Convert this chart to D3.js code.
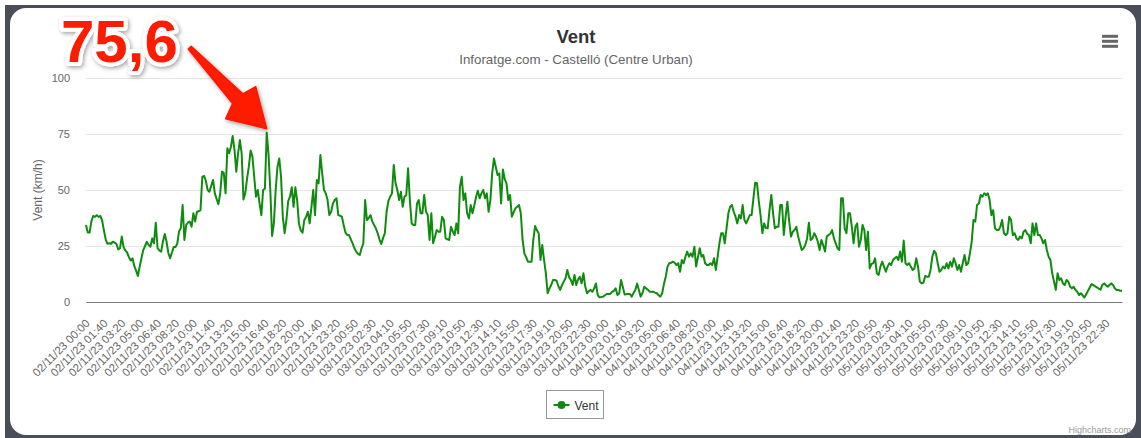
<!DOCTYPE html>
<html>
<head>
<meta charset="utf-8">
<script src="https://cdn.jsdelivr.net/npm/d3@7"></script>
<style>
  body { margin: 0; background: #fff; }
  text { font-family: "Liberation Sans", Arial, Helvetica, sans-serif; }
</style>
</head>
<body>
<div id="chart"></div>
<script>
// chart texts
const chartTitle = "Vent";
const chartSubtitle = "Inforatge.com - Castelló (Centre Urban)";
const seriesName = "Vent";
const yAxisTitle = "Vent (km/h)";
const creditText = "Highcharts.com";

// y axis ticks
const yTicks = [0, 25, 50, 75, 100];

// one label every 10 readings (10 minute data)
const labelStep = 10;
const tickLabels = [
  "02/11/23 00:00", "02/11/23 01:40", "02/11/23 03:20", "02/11/23 05:00", "02/11/23 06:40",
  "02/11/23 08:20", "02/11/23 10:00", "02/11/23 11:40", "02/11/23 13:20", "02/11/23 15:00",
  "02/11/23 16:40", "02/11/23 18:20", "02/11/23 20:00", "02/11/23 21:40", "02/11/23 23:20",
  "03/11/23 00:50", "03/11/23 02:30", "03/11/23 04:10", "03/11/23 05:50", "03/11/23 07:30",
  "03/11/23 09:10", "03/11/23 10:50", "03/11/23 12:30", "03/11/23 14:10", "03/11/23 15:50",
  "03/11/23 17:30", "03/11/23 19:10", "03/11/23 20:50", "03/11/23 22:30",
  "04/11/23 00:00", "04/11/23 01:40", "04/11/23 03:20", "04/11/23 05:00", "04/11/23 06:40",
  "04/11/23 08:20", "04/11/23 10:00", "04/11/23 11:40", "04/11/23 13:20", "04/11/23 15:00",
  "04/11/23 16:40", "04/11/23 18:20", "04/11/23 20:00", "04/11/23 21:40", "04/11/23 23:20",
  "05/11/23 00:50", "05/11/23 02:30", "05/11/23 04:10", "05/11/23 05:50", "05/11/23 07:30",
  "05/11/23 09:10", "05/11/23 10:50", "05/11/23 12:30", "05/11/23 14:10", "05/11/23 15:50",
  "05/11/23 17:30", "05/11/23 19:10", "05/11/23 20:50", "05/11/23 22:30"
];

// wind speed, km/h
const vent = [
  34.4, 31, 31, 36, 38.4, 38, 38.8, 38, 38.4, 36.5,
  32, 28, 26, 26.2, 26, 26.9, 26.5, 26, 23.5, 24,
  29.2, 24.5, 23, 22, 20, 18.5, 19.5, 16, 14, 11.6,
  15.8, 19.5, 23.2, 25, 26.9, 25.5, 24.7, 28.4, 26.2, 35.4,
  24, 23, 22.5, 27, 30.4, 27, 22, 19.5, 22, 24.5,
  24.5, 26, 31.5, 33, 43.3, 27.7, 34.4, 35.5, 35.9, 33.6,
  39.6, 35.9, 40.3, 40.5, 41, 55.9, 56.3, 54, 50, 49.2,
  52, 54.5, 48.5, 46, 43.7, 48.5, 58.2, 57.7, 48.5, 68.6,
  66.4, 69.3, 74.1, 67.9, 58.2, 66.4, 72.3, 66.4, 45.8, 48.5,
  55, 60.4, 67.6, 65, 56, 47, 50, 44, 38.8, 50,
  50.7, 75.6, 66, 50, 29.5, 35, 50, 60.4, 64.1, 56,
  38, 30.7, 36.6, 45, 47, 51.2, 42.5, 51.2, 45.5, 35.1,
  32, 30.9, 36.6, 38, 40.3, 35.1, 42.5, 50, 38.8, 54.5,
  53, 65.6, 57.4, 50, 48.5, 45.5, 38.8, 40.3, 44, 45.5,
  46.3, 38.8, 38.5, 38.1, 34.4, 31, 29.9, 29.9, 28, 26.2,
  24, 22.5, 21.5, 21, 24, 26.2, 45.5, 36.6, 37.5, 38.8,
  36, 34.4, 32.9, 30.7, 28, 25.9, 28.5, 30.7, 40.3, 45,
  47, 48.5, 61.2, 53, 50, 45.5, 49.2, 42.5, 47, 47.8,
  59.7, 45.5, 35.1, 34.4, 34.4, 44, 45.5, 39.6, 39.6, 47.8,
  40.3, 38.8, 27.7, 39.6, 26.2, 29, 32.1, 31.4, 31.4, 38.1,
  36.6, 28.4, 28, 27.7, 33.6, 31.5, 29.9, 35.1, 30.7, 51.5,
  55.9, 45.5, 48.5, 39.6, 37.3, 43.3, 39.6, 43, 47, 49.7,
  46.3, 48.5, 50, 46.3, 48.5, 40.3, 45.5, 57.4, 64.1, 60.4,
  56.7, 57.4, 44, 59.2, 55, 53, 45.5, 47.8, 38.1, 40,
  41.8, 42.5, 43.3, 39.6, 27.7, 21.7, 20, 18, 18, 18,
  27.7, 33.9, 32, 30.7, 18.75, 25.4, 18.75, 12.8, 3.9, 6,
  7.6, 9.8, 9.8, 9.5, 7, 5.4, 7.5, 9.1, 10.6, 14.3,
  11, 9.8, 7.6, 12.1, 7.6, 10, 11.3, 8.3, 12.8, 7,
  3.9, 4.8, 5.4, 4.6, 6, 8.3, 3.1, 2.1, 2.2, 2.4,
  3, 3.6, 3.6, 3.6, 4.5, 5, 6.1, 3.1, 3.9, 9.8,
  6.8, 3.4, 3.5, 3.6, 3.6, 2.4, 4, 5.4, 8.3, 5.4,
  2.4, 4, 6.8, 6.1, 5.5, 4.6, 4.6, 4.6, 4.2, 3.9,
  3, 2.4, 3.9, 8, 11.3, 15.8, 17.3, 17.5, 18, 17.5,
  16.5, 17.3, 13.5, 18.75, 17.3, 20.2, 22.5, 20.2, 21.7, 20.2,
  24.7, 15.8, 20, 24, 20.2, 21, 17.3, 16.5, 16.5, 17.3,
  16.5, 19.5, 14.3, 20.2, 26.2, 30.7, 30.7, 26.2, 33, 39.6,
  42.5, 43.3, 40.3, 38.1, 35.1, 38.8, 37.3, 43.3, 36.6, 35.1,
  37, 38.8, 38.8, 46.3, 53.3, 53, 45, 38.8, 30.7, 35.1,
  33, 32.9, 41, 47.8, 39.6, 32.9, 33.6, 33.6, 43.3, 43.3,
  29.9, 38, 44.8, 36, 29.2, 31.4, 32.1, 33.6, 29.2, 26.2,
  23.2, 24, 25.4, 28.4, 35.4, 27.7, 28.4, 30.7, 29.2, 26.9,
  23.2, 27.7, 25.4, 22.5, 29.2, 29.9, 30.5, 32.1, 28.4, 26.2,
  24, 23.2, 46.3, 46.3, 32.9, 30.7, 39.6, 39.6, 33.6, 26.2,
  33.6, 35.1, 24.7, 27.7, 34.4, 32.1, 23.2, 31.4, 15, 17,
  17.3, 19.5, 12.8, 12.1, 15.8, 18, 15.8, 13.5, 15.8, 17.3,
  16.5, 18.75, 19.5, 20.2, 18.75, 22.5, 18, 27.4, 17.3, 16.5,
  17.3, 15.8, 14.3, 15, 19.5, 15.8, 9.1, 8.3, 8.6, 11.6,
  11.3, 11.3, 14.3, 20.2, 22.9, 21.7, 17.3, 13.5, 14.3, 15.8,
  15, 17.3, 15, 18, 15.8, 19.5, 17.3, 14.3, 16.5, 13.5,
  17.3, 21, 16.5, 17.3, 21.7, 26.9, 36.6, 35.9, 43.3, 44,
  47.8, 47, 48.5, 47.8, 48.5, 45.5, 38.8, 41, 32.9, 32.1,
  32.1, 33.6, 36.6, 30.7, 29.9, 30.7, 38.1, 36.6, 29.9, 30.7,
  28.4, 27.7, 29.2, 28.4, 31.4, 32.1, 30.5, 29.9, 26.2, 35.1,
  29.9, 35.1, 29.9, 29.9, 28.4, 26.2, 27.7, 23.2, 20.2, 18.75,
  12.8, 9.1, 5.4, 12.8, 9.8, 10.6, 8.3, 7.6, 9.8, 9.1,
  6.8, 6.1, 6.8, 5.4, 4.6, 3.1, 3.9, 3, 2, 3.5,
  5, 6.5, 8, 7.5, 7, 6.5, 6, 5.5, 7.6, 8.3,
  7.5, 6.8, 7.6, 8.3, 7.6, 6, 5.4, 5.4, 5, 5
];

const width = 1141,
  height = 438;
const plot = { left: 86, right: 1122, top: 78, bottom: 302 };

const svg = d3
  .select("#chart")
  .append("svg")
  .attr("width", width)
  .attr("height", height)
  .attr("viewBox", `0 0 ${width} ${height}`);

const defs = svg.append("defs");
defs
  .append("filter")
  .attr("id", "shadow")
  .attr("x", "-20%")
  .attr("y", "-20%")
  .attr("width", "140%")
  .attr("height", "140%")
  .append("feDropShadow")
  .attr("dx", 1.5)
  .attr("dy", 2)
  .attr("stdDeviation", 2)
  .attr("flood-color", "#000")
  .attr("flood-opacity", 0.35);

// the dark frame of the screenshot + white card
svg
  .append("rect")
  .attr("x", 5)
  .attr("y", 5)
  .attr("width", width - 5)
  .attr("height", height - 5)
  .attr("fill", "#4a4e58");
svg
  .append("rect")
  .attr("x", 10)
  .attr("y", 8)
  .attr("width", 1126)
  .attr("height", 427)
  .attr("rx", 16)
  .attr("fill", "#fff");

const x = d3
  .scaleLinear()
  .domain([0, vent.length - 1])
  .range([plot.left, plot.right]);
const y = d3
  .scaleLinear()
  .domain([0, 100])
  .range([plot.bottom, plot.top]);

// grid lines
svg
  .append("g")
  .selectAll("line")
  .data(yTicks.filter(d => d > 0))
  .enter()
  .append("line")
  .attr("x1", plot.left)
  .attr("x2", plot.right)
  .attr("y1", d => y(d) + 0.5)
  .attr("y2", d => y(d) + 0.5)
  .attr("stroke", "#e6e6e6");

// y axis labels
const yAxis = svg
  .append("g")
  .attr("transform", `translate(${plot.left},0)`)
  .call(
    d3
      .axisLeft(y)
      .tickValues(yTicks)
      .tickSize(0)
      .tickPadding(16)
  );
yAxis.select(".domain").remove();
yAxis
  .selectAll("text")
  .attr("fill", "#666")
  .style("font-size", "11px");

svg
  .append("text")
  .attr("transform", `translate(42,${(plot.top + plot.bottom) / 2}) rotate(-90)`)
  .attr("text-anchor", "middle")
  .attr("fill", "#666")
  .style("font-size", "12px")
  .text(yAxisTitle);

// x axis, rotated labels
const xAxis = svg
  .append("g")
  .attr("transform", `translate(0,${plot.bottom})`)
  .call(
    d3
      .axisBottom(x)
      .tickValues(d3.range(0, vent.length, labelStep))
      .tickFormat(i => tickLabels[i / labelStep])
      .tickSize(0)
      .tickSizeOuter(0)
  );
xAxis
  .select(".domain")
  .attr("stroke", "#7a7a7a")
  .attr("stroke-width", 1.2);
xAxis
  .selectAll("text")
  .attr("x", 0)
  .attr("y", 0)
  .attr("dy", 0)
  .attr("text-anchor", "end")
  .attr("transform", "translate(4,22) rotate(-45)")
  .attr("fill", "#666")
  .style("font-size", "11.4px");

// the series
svg
  .append("path")
  .datum(vent)
  .attr(
    "d",
    d3
      .line()
      .x((d, i) => x(i))
      .y(d => y(d))
  )
  .attr("fill", "none")
  .attr("stroke", "#0f8c0f")
  .attr("stroke-width", 2)
  .attr("stroke-linejoin", "round");

// title + subtitle
svg
  .append("text")
  .attr("x", 576)
  .attr("y", 43)
  .attr("text-anchor", "middle")
  .attr("fill", "#333")
  .style("font-size", "18.5px")
  .style("font-weight", "bold")
  .text(chartTitle);
svg
  .append("text")
  .attr("x", 576)
  .attr("y", 64)
  .attr("text-anchor", "middle")
  .attr("fill", "#666")
  .style("font-size", "13.3px")
  .text(chartSubtitle);

// hamburger menu
svg
  .append("g")
  .selectAll("line")
  .data([36.3, 41.3, 46.3])
  .enter()
  .append("line")
  .attr("x1", 1102)
  .attr("x2", 1118)
  .attr("y1", d => d)
  .attr("y2", d => d)
  .attr("stroke", "#666")
  .attr("stroke-width", 3);

// legend
const legend = svg.append("g").attr("transform", "translate(546.5,390.5)");
legend
  .append("rect")
  .attr("width", 57)
  .attr("height", 28)
  .attr("fill", "#fff")
  .attr("stroke", "#999");
legend
  .append("line")
  .attr("x1", 7)
  .attr("x2", 23)
  .attr("y1", 14.5)
  .attr("y2", 14.5)
  .attr("stroke", "#0f8c0f")
  .attr("stroke-width", 2);
legend
  .append("circle")
  .attr("cx", 15)
  .attr("cy", 14.5)
  .attr("r", 4)
  .attr("fill", "#0f8c0f");
legend
  .append("text")
  .attr("x", 28)
  .attr("y", 19)
  .attr("fill", "#333")
  .style("font-size", "12px")
  .text(seriesName);

// credits
svg
  .append("text")
  .attr("x", 1131)
  .attr("y", 433)
  .attr("text-anchor", "end")
  .attr("fill", "#999")
  .style("font-size", "9px")
  .text(creditText);

// big red annotation pointing at the maximum
const peakIndex = d3.maxIndex(vent);
const tipX = x(peakIndex),
  tipY = y(vent[peakIndex]) - 4;
const arrowShape = [
  [-75.5, -82.4],
  [-23.9, -34.8],
  [-11, -42],
  [0, 0],
  [-41, -10],
  [-34.1, -25.2],
  [-78.5, -79.6]
];
svg
  .append("polygon")
  .attr("points", arrowShape.map(p => [tipX + p[0], tipY + p[1]].join(",")).join(" "))
  .attr("fill", "#fe1a00")
  .attr("stroke", "#fe1a00")
  .attr("stroke-linejoin", "round")
  .attr("stroke-width", 1.5)
  .attr("filter", "url(#shadow)");

svg
  .append("text")
  .attr("x", 61)
  .attr("y", 62)
  .attr("fill", "#fe1a00")
  .attr("stroke", "#fff")
  .attr("stroke-width", 8)
  .attr("stroke-linejoin", "round")
  .attr("paint-order", "stroke")
  .attr("filter", "url(#shadow)")
  .style("font-size", "60px")
  .style("font-weight", "bold")
  .text(d3.format(".1f")(vent[peakIndex]).replace(".", ","));
</script>
</body>
</html>
